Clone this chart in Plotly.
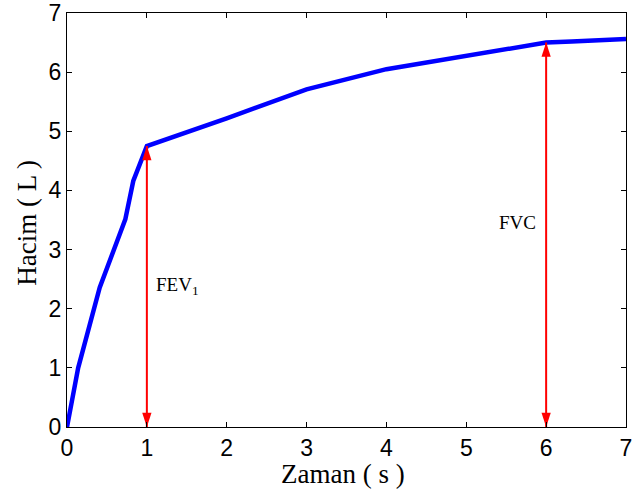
import plotly.graph_objects as go

# data
time_s = [0, 0.14, 0.41, 0.73, 0.83, 0.98, 1.0, 2.0, 3.0, 4.0, 5.0, 6.0, 6.32, 6.67, 7.0]
volume_L = [0, 1.0, 2.36, 3.51, 4.16, 4.72, 4.75, 5.22, 5.71, 6.05, 6.28, 6.5, 6.52, 6.55, 6.56]
fev1_t, fev1_v = 1.0, 4.75
fvc_t, fvc_v = 6.0, 6.5
x_ticks = [0, 1, 2, 3, 4, 5, 6, 7]
y_ticks = [0, 1, 2, 3, 4, 5, 6, 7]

fig = go.Figure()
fig.add_trace(go.Scatter(x=time_s, y=volume_L, mode="lines", hoverinfo="skip",
                         line=dict(color="#0000ff", width=4.5), showlegend=False))

for t, v in [(fev1_t, fev1_v), (fvc_t, fvc_v)]:
    fig.add_trace(go.Scatter(x=[t, t], y=[0, v], mode="lines+markers", hoverinfo="skip",
                             showlegend=False, line=dict(color="#ff0000", width=2),
                             marker=dict(symbol="arrow", size=15, angle=[180, 0],
                                         color="#ff0000", line=dict(width=0))))

serif = "Liberation Serif, Times New Roman, serif"
fig.add_annotation(x=1.09, y=2.38, xref="x", yref="y", text="FEV<sub>1</sub>",
                   showarrow=False, xanchor="left", yanchor="middle",
                   font=dict(family=serif, size=19, color="black"))
fig.add_annotation(x=5.64, y=3.45, xref="x", yref="y", text="FVC",
                   showarrow=False, xanchor="center", yanchor="middle",
                   font=dict(family=serif, size=19, color="black"))

# axis titles placed as paper annotations
fig.add_annotation(x=0.4937, y=-0.114, xref="paper", yref="paper", text="Zaman ( s )",
                   showarrow=False, xanchor="center", yanchor="middle",
                   font=dict(family=serif, size=27, color="black"))
fig.add_annotation(x=-0.072, y=0.493, xref="paper", yref="paper", text="Hacim ( L )",
                   showarrow=False, xanchor="center", yanchor="middle", textangle=-90,
                   font=dict(family=serif, size=27, color="black"))

axis_common = dict(showgrid=False, zeroline=False, showline=True, linecolor="black",
                   linewidth=1, mirror="ticks", ticks="inside", ticklen=5,
                   tickcolor="black", automargin=False, ticklabeloverflow="allow",
                   tickfont=dict(family="Liberation Sans, Arial, sans-serif", size=23, color="black"))

fig.update_xaxes(range=[0, 7], tickvals=x_ticks, **axis_common)
fig.update_yaxes(range=[0, 7], tickvals=y_ticks, **axis_common)

fig.update_layout(width=633, height=498, margin=dict(l=67, r=7, t=13, b=71),
                  paper_bgcolor="white", plot_bgcolor="white")

fig.write_html("out.html", config={"displayModeBar": False},
               post_script="document.body.style.margin='0';document.body.style.overflow='hidden';")
